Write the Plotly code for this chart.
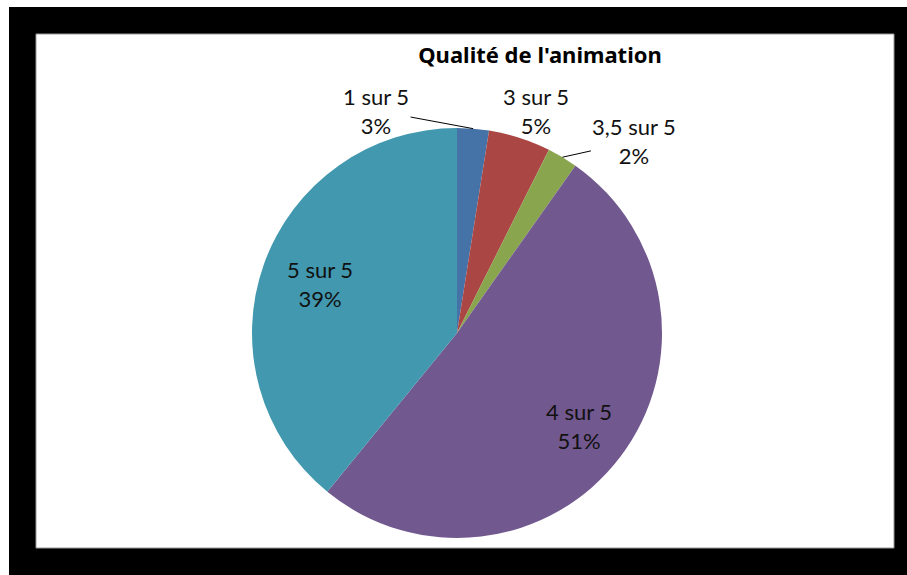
import math
import plotly.graph_objects as go

# ---- data ----
categories = ["1 sur 5", "3 sur 5", "3,5 sur 5", "4 sur 5", "5 sur 5"]
values = [2.5, 4.9, 2.4, 51.1, 39.1]
pct_labels = ["3%", "5%", "2%", "51%", "39%"]
colors = ["#4572A7", "#AA4643", "#89A54E", "#71588F", "#4198AF"]
title_text = "Qualité de l'animation"

# ---- layout constants (pixels) ----
W, H = 907, 575
ML, MR, MT, MB = 36, 13, 34, 27
PW, PH = W - ML - MR, H - MT - MB
CX, CY, R = 457, 333, 205
FONT = "Lato"
FS = 22


def px_to_paper(px, py):
    return (px - ML) / PW, (H - MB - py) / PH


# pie domain so that radius/center match
dom_x = [(CX - ML - R - 60) / PW, (CX - ML + R + 60) / PW]
dom_y = [(H - MB - CY - R) / PH, (H - MB - CY + R) / PH]

texts = [f"{c}<br>{p}" for c, p in zip(categories, pct_labels)]

fig = go.Figure(
    go.Pie(
        labels=categories,
        values=values,
        sort=False,
        direction="clockwise",
        rotation=0,
        marker=dict(colors=colors, line=dict(width=0)),
        textinfo="none",
        domain=dict(x=dom_x, y=dom_y),
        showlegend=False,
        hoverinfo="label+percent",
    )
)

# label placement style: outside labels get pixel offsets from the rim point,
# inside labels sit at a fraction of the radius along the slice mid-angle
outside = {0: (-97, -18, True), 1: (16, -27, False), 2: (72, -16, True)}
inside_frac = {3: 0.75, 4: 0.71}

total = sum(values)
annotations = []
cum = 0.0
for i, v in enumerate(values):
    mid = (cum + v / 2) / total * 2 * math.pi
    cum += v
    font = dict(family=FONT, size=FS, color="#111")
    if i in outside:
        ex = CX + R * math.sin(mid)
        ey = CY - R * math.cos(mid)
        x, y = px_to_paper(ex, ey)
        ax, ay, line = outside[i]
        annotations.append(
            dict(
                x=x, y=y, xref="paper", yref="paper",
                ax=ax, ay=ay,
                text=texts[i],
                showarrow=True,
                arrowhead=0,
                arrowwidth=1,
                arrowcolor="#000" if line else "rgba(0,0,0,0)",
                standoff=0,
                font=font,
                align="center",
            )
        )
    else:
        f = inside_frac[i]
        ix = CX + f * R * math.sin(mid)
        iy = CY - f * R * math.cos(mid)
        x, y = px_to_paper(ix, iy)
        annotations.append(
            dict(
                x=x, y=y, xref="paper", yref="paper",
                text=texts[i], showarrow=False,
                xanchor="center", yanchor="middle",
                font=font, align="center",
            )
        )

shapes = [
    # inner white chart area
    dict(type="rect", xref="paper", yref="paper", x0=0, x1=1, y0=0, y1=1,
         fillcolor="white", line=dict(color="#999", width=1), layer="below"),
    # white strip at top of page
    dict(type="rect", xref="paper", yref="paper",
         x0=-ML / PW - 0.01, x1=1 + MR / PW + 0.01,
         y0=(H - MB - 7) / PH, y1=(H - MB) / PH + 0.01,
         fillcolor="white", line=dict(width=0), layer="below"),
    # white strip at left of page
    dict(type="rect", xref="paper", yref="paper",
         x0=-ML / PW - 0.01, x1=(9 - ML) / PW,
         y0=-MB / PH - 0.01, y1=(H - MB) / PH + 0.01,
         fillcolor="white", line=dict(width=0), layer="below"),
]

fig.update_layout(
    width=W, height=H,
    margin=dict(l=ML, r=MR, t=MT, b=MB),
    paper_bgcolor="black",
    plot_bgcolor="white",
    title=dict(
        text=f"<b>{title_text}</b>",
        x=540 / W, xref="container", xanchor="center",
        y=1 - 55 / H, yref="container", yanchor="middle",
        font=dict(family="Noto Sans", size=22, color="#000"),
    ),
    shapes=shapes,
    annotations=annotations,
)

fig.write_html("out.html")
